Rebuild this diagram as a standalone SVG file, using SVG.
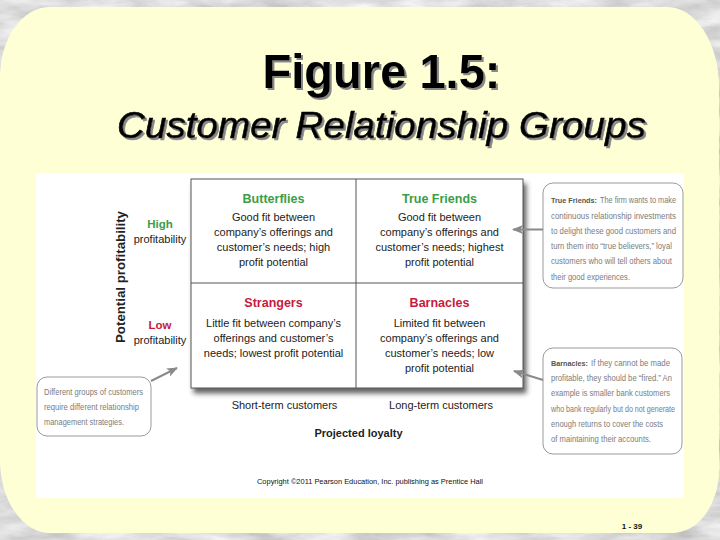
<svg xmlns="http://www.w3.org/2000/svg" width="720" height="540" viewBox="0 0 720 540">
  <defs>
    <filter id="marble" x="0" y="0" width="100%" height="100%">
      <feTurbulence type="fractalNoise" baseFrequency="0.02 0.07" numOctaves="5" seed="7"/>
      <feColorMatrix type="matrix" values="0.6 0 0 0 0.42  0.6 0 0 0 0.42  0.6 0 0 0 0.42  0 0 0 0 1"/>
    </filter>
    <filter id="shadow" x="-10%" y="-10%" width="125%" height="130%">
      <feDropShadow dx="3" dy="5" stdDeviation="2.5" flood-color="#333" flood-opacity="0.75"/>
    </filter>
    <filter id="tshadow" x="-5%" y="-10%" width="115%" height="130%">
      <feDropShadow dx="2" dy="2" stdDeviation="0.4" flood-color="#888" flood-opacity="1"/>
    </filter>
    <marker id="arrow" markerUnits="userSpaceOnUse" markerWidth="11" markerHeight="9" refX="10" refY="4.5" orient="auto">
      <path d="M0,0 L11,4.5 L0,9 L2.5,4.5 z" fill="#8a8a8a"/>
    </marker>
    <style>
      text { font-family: "Liberation Sans", Arial, sans-serif; }
      .title { font-size: 48px; font-weight: bold; fill: #000; }
      .sub { font-size: 36px; font-style: italic; fill: #000; stroke: #000; stroke-width: 0.6; }
      .head { font-size: 12.5px; font-weight: bold; text-anchor: middle; }
      .body { font-size: 11px; fill: #222; text-anchor: middle; }
      .axis { font-size: 11px; fill: #222; text-anchor: middle; }
      .axisb { font-size: 11px; font-weight: bold; fill: #222; text-anchor: middle; }
      .green { fill: #3a9d48; }
      .red { fill: #c71a3c; }
      .note { font-size: 9.5px; fill: #7c7c7c; }
      .noteb { font-size: 7.5px; font-weight: bold; fill: #555; }
      .cbox { fill: #ffffff; stroke: #9a9a9a; stroke-width: 1; }
      .conn { stroke: #8a8a8a; stroke-width: 2; fill: none; marker-end: url(#arrow); }
    </style>
  </defs>

  <!-- background -->
  <rect x="0" y="0" width="720" height="540" fill="#cfcfcf"/>
  <rect x="0" y="0" width="720" height="540" filter="url(#marble)"/>
  <path d="M50,7 L667,7 A52,80 0 0 1 719,87 L719,470 A47,63 0 0 1 672,533 L50,533 A50,73 0 0 1 0,460 L0,77 A50,70 0 0 1 50,7 Z" fill="#ffffd6"/>

  <!-- title -->
  <g id="title" filter="url(#tshadow)">
    <text class="title" x="381.5" y="88" text-anchor="middle" textLength="238" lengthAdjust="spacingAndGlyphs">Figure 1.5:</text>
    <text class="sub" x="381.5" y="137.5" text-anchor="middle" textLength="529" lengthAdjust="spacingAndGlyphs">Customer Relationship Groups</text>
  </g>

  <!-- white panel -->
  <rect x="36" y="173" width="648" height="325" fill="#ffffff"/>

  <!-- grid -->
  <g id="grid">
    <rect x="191" y="179" width="332" height="209" fill="#ffffff" stroke="#555" stroke-width="1" filter="url(#shadow)"/>
    <line x1="356" y1="179" x2="356" y2="388" stroke="#555" stroke-width="1"/>
    <line x1="191" y1="283" x2="523" y2="283" stroke="#555" stroke-width="1"/>
  </g>

  <g id="butterflies">
    <text class="head green" x="273.5" y="203">Butterflies</text>
    <text class="body" x="273.5" y="221">Good fit between</text>
    <text class="body" x="273.5" y="236">company’s offerings and</text>
    <text class="body" x="273.5" y="251">customer’s needs; high</text>
    <text class="body" x="273.5" y="266">profit potential</text>
  </g>

  <g id="true-friends">
    <text class="head green" x="439.5" y="203">True Friends</text>
    <text class="body" x="439.5" y="221">Good fit between</text>
    <text class="body" x="439.5" y="236">company’s offerings and</text>
    <text class="body" x="439.5" y="251">customer’s needs; highest</text>
    <text class="body" x="439.5" y="266">profit potential</text>
  </g>

  <g id="strangers">
    <text class="head red" x="273.5" y="307">Strangers</text>
    <text class="body" x="273.5" y="327">Little fit between company’s</text>
    <text class="body" x="273.5" y="342">offerings and customer’s</text>
    <text class="body" x="273.5" y="357">needs; lowest profit potential</text>
  </g>

  <g id="barnacles">
    <text class="head red" x="439.5" y="307">Barnacles</text>
    <text class="body" x="439.5" y="327">Limited fit between</text>
    <text class="body" x="439.5" y="342">company’s offerings and</text>
    <text class="body" x="439.5" y="357">customer’s needs; low</text>
    <text class="body" x="439.5" y="372">profit potential</text>
  </g>

  <!-- axes -->
  <g id="y-axis">
    <text class="axisb" transform="translate(125,277) rotate(-90)" style="font-size:13.5px" textLength="132" lengthAdjust="spacingAndGlyphs">Potential profitability</text>
    <text class="axisb green" x="160" y="228" style="font-size:11.5px">High</text>
    <text class="axis" x="160" y="243">profitability</text>
    <text class="axisb red" x="160" y="329" style="font-size:11.5px">Low</text>
    <text class="axis" x="160" y="344">profitability</text>
  </g>

  <g id="x-axis">
    <text class="axis" x="284.5" y="409">Short-term customers</text>
    <text class="axis" x="441" y="409">Long-term customers</text>
    <text class="axisb" x="358.5" y="437">Projected loyalty</text>
  </g>

  <!-- callouts -->
  <g id="note-true-friends">
    <rect class="cbox" x="543" y="183" width="140" height="105" rx="10" ry="10"/>
    <text class="noteb" x="551" y="203" textLength="46" lengthAdjust="spacingAndGlyphs">True Friends:</text>
    <text class="note" x="600" y="203" textLength="76" lengthAdjust="spacingAndGlyphs">The firm wants to make</text>
    <text class="note" x="551" y="218.5" textLength="125" lengthAdjust="spacingAndGlyphs">continuous relationship investments</text>
    <text class="note" x="551" y="233.5" textLength="125" lengthAdjust="spacingAndGlyphs">to delight these good customers and</text>
    <text class="note" x="551" y="249" textLength="121" lengthAdjust="spacingAndGlyphs">turn them into “true believers,” loyal</text>
    <text class="note" x="551" y="264" textLength="121" lengthAdjust="spacingAndGlyphs">customers who will tell others about</text>
    <text class="note" x="551" y="279.5" textLength="79" lengthAdjust="spacingAndGlyphs">their good experiences.</text>
  </g>

  <g id="note-barnacles">
    <rect class="cbox" x="543" y="348" width="139" height="106" rx="10" ry="10"/>
    <text class="noteb" x="551" y="366" textLength="37" lengthAdjust="spacingAndGlyphs">Barnacles:</text>
    <text class="note" x="591" y="366" textLength="79" lengthAdjust="spacingAndGlyphs">If they cannot be made</text>
    <text class="note" x="551" y="381" textLength="121" lengthAdjust="spacingAndGlyphs">profitable, they should be “fired.” An</text>
    <text class="note" x="551" y="396" textLength="119" lengthAdjust="spacingAndGlyphs">example is smaller bank customers</text>
    <text class="note" x="551" y="411.5" textLength="124" lengthAdjust="spacingAndGlyphs">who bank regularly but do not generate</text>
    <text class="note" x="551" y="426.5" textLength="112" lengthAdjust="spacingAndGlyphs">enough returns to cover the costs</text>
    <text class="note" x="551" y="442" textLength="100" lengthAdjust="spacingAndGlyphs">of maintaining their accounts.</text>
  </g>

  <g id="note-groups">
    <rect class="cbox" x="37" y="377" width="114" height="59" rx="10" ry="10"/>
    <text class="note" x="44" y="395" textLength="99" lengthAdjust="spacingAndGlyphs">Different groups of customers</text>
    <text class="note" x="44" y="410" textLength="95" lengthAdjust="spacingAndGlyphs">require different relationship</text>
    <text class="note" x="44" y="425" textLength="80" lengthAdjust="spacingAndGlyphs">management strategies.</text>
  </g>

  <!-- connectors -->
  <g id="connectors">
    <line class="conn" x1="543" y1="229.5" x2="513" y2="229.5"/>
    <line class="conn" x1="543" y1="380" x2="514" y2="371"/>
    <line class="conn" x1="151" y1="381" x2="177" y2="368"/>
  </g>

  <!-- footer -->
  <g id="footer">
    <text x="257" y="484" style="font-size:8px" fill="#111" textLength="226" lengthAdjust="spacingAndGlyphs">Copyright ©2011 Pearson Education, Inc. publishing as Prentice Hall</text>
    <text x="632" y="529" style="font-size:8px;font-weight:bold" fill="#111" text-anchor="middle">1 - 39</text>
  </g>
</svg>
